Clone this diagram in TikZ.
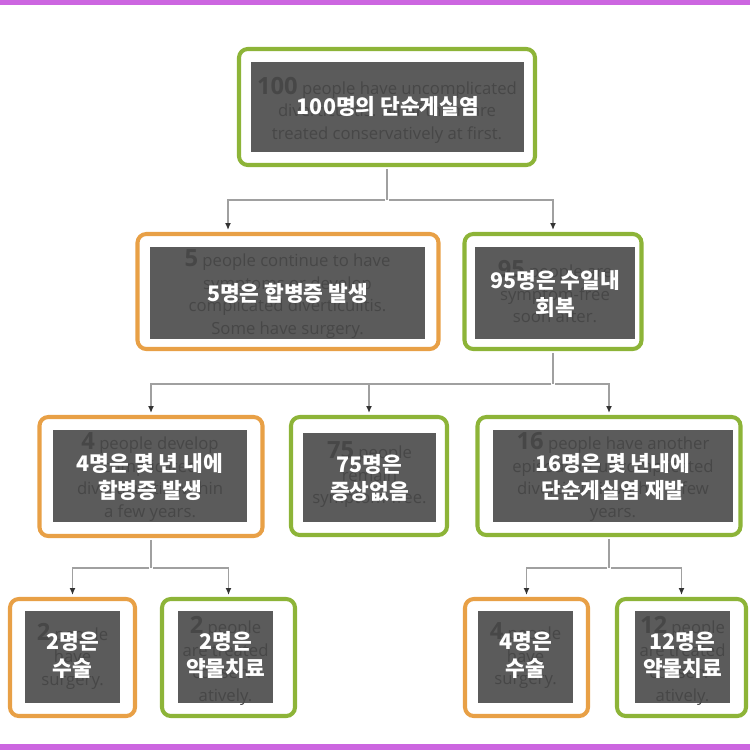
\documentclass[tikz,border=0pt]{standalone}
\usepackage{fontspec}
\setmainfont{Open Sans}
\newfontfamily\kor{Noto Sans CJK KR}
\definecolor{complicacion}{HTML}{E8A046}
\definecolor{recuperacion}{HTML}{8DB438}
\definecolor{velo}{HTML}{5B5B5B}
\definecolor{ingles}{HTML}{474747}
\definecolor{marco}{HTML}{CC66E0}
\definecolor{linea}{HTML}{A0A0A0}
\definecolor{punta}{HTML}{333333}
\newcommand\cifra[1]{{\fontsize{13.5}{12.8}\selectfont\bfseries #1}}
\usetikzlibrary{arrows.meta, positioning}

\begin{document}
\begin{tikzpicture}[x=0.2mm, y=-0.2mm,
  caja/.style={draw=#1, line width=2.3pt, rounded corners=5pt, fill=white,
               inner sep=0pt},
  tapa/.style={fill=velo, inner sep=0pt},
  eng/.style={text=ingles, align=center, inner sep=0pt,
              font=\fontsize{9.5}{12.8}\selectfont},
  kor/.style={text=white, align=center, inner sep=0pt,
              font=\kor\bfseries\fontsize{12.2}{15.2}\selectfont},
  enlace/.style={draw=linea, line width=0.8pt, shorten <=1.1pt},
  flecha/.style={enlace, shorten >=1.1pt,
                 -{Latex[length=1.4mm, width=1.2mm, color=punta]}},
]
\useasboundingbox (0,0) rectangle (750,750);
\fill[marco] (0,0) rectangle (750,5);
\fill[marco] (0,744) rectangle (750,750);

% nivel 1
\node[caja=recuperacion, minimum width=59.2mm, minimum height=23.2mm] (total) at (387,107) {};
\node[tapa, minimum width=54.6mm, minimum height=18mm] (totalV) at (387,107) {};
\node[eng] (totalE) at (387,110) {\cifra{100} people have uncomplicated\\
  diverticulitis. All of them are\\ treated conservatively at first.};
\node[kor] (totalK) at (388,106) {100명의 단순게실염};

% nivel 2
\node[caja=complicacion, minimum width=60.2mm, minimum height=23mm] (compl5) at (288,291.5) {};
\node[tapa, minimum width=55mm, minimum height=18.4mm] (compl5V) at (287.5,293) {};
\node[eng] (compl5E) at (287.5,294) {\cifra{5} people continue to have\\
  symptoms or develop\\ complicated diverticulitis.\\ Some have surgery.};
\node[kor] (compl5K) at (287.5,293) {5명은 합병증 발생};

\node[caja=recuperacion, minimum width=35.4mm, minimum height=23mm] (sano95) at (553,291.5) {};
\node[tapa, minimum width=32mm, minimum height=18.4mm] (sano95V) at (555,293) {};
\node[eng] (sano95E) at (555,292) {\cifra{95} people are\\ symptom-free\\ soon after.};
\node[kor] (sano95K) at (555,294) {95명은 수일내\\ 회복};

% nivel 3
\node[caja=complicacion, minimum width=44.6mm, minimum height=23.8mm] (compl4) at (151,476.5) {};
\node[tapa, minimum width=38.8mm, minimum height=18.4mm] (compl4V) at (150,476) {};
\node[eng] (compl4E) at (150,477) {\cifra{4} people develop\\ complicated\\
  diverticulitis within\\ a few years.};
\node[kor] (compl4K) at (150,477) {4명은 몇 년 내에\\ 합병증 발생};

\node[caja=recuperacion, minimum width=31.2mm, minimum height=23.6mm] (sano75) at (369,476) {};
\node[tapa, minimum width=26.6mm, minimum height=17.8mm] (sano75V) at (369.5,477.5) {};
\node[eng] (sano75E) at (369.5,475) {\cifra{75} people\\ remain\\ symptom-free.};
\node[kor] (sano75K) at (369.5,478) {75명은\\ 증상없음};

\node[caja=recuperacion, minimum width=52.6mm, minimum height=23.6mm] (recaida16) at (609,476) {};
\node[tapa, minimum width=48mm, minimum height=18.4mm] (recaida16V) at (613,476) {};
\node[eng] (recaida16E) at (613,477) {\cifra{16} people have another\\
  episode of uncomplicated\\ diverticulitis within a few\\ years.};
\node[kor] (recaida16K) at (613,477) {16명은 몇 년내에\\ 단순게실염 재발};

% nivel 4
\node[caja=complicacion, minimum width=25mm, minimum height=23.4mm] (cir2) at (72.5,657.5) {};
\node[tapa, minimum width=19mm, minimum height=18.4mm] (cir2V) at (72.5,657) {};
\node[eng] (cir2E) at (72.5,656) {\cifra{2} people\\ have\\ surgery.};
\node[kor] (cir2K) at (72.5,655) {2명은\\ 수술};

\node[caja=recuperacion, minimum width=26.6mm, minimum height=23.4mm] (med2) at (228.5,657.5) {};
\node[tapa, minimum width=19mm, minimum height=18.4mm] (med2V) at (225.5,657) {};
\node[eng] (med2E) at (225.5,661) {\cifra{2} people\\ are treated\\ conserv-\\ atively.};
\node[kor] (med2K) at (225.5,655) {2명은\\ 약물치료};

\node[caja=complicacion, minimum width=24.6mm, minimum height=23.4mm] (cir4) at (526.5,657.5) {};
\node[tapa, minimum width=19mm, minimum height=18.4mm] (cir4V) at (525.5,657) {};
\node[eng] (cir4E) at (525.5,656) {\cifra{4} people\\ have\\ surgery.};
\node[kor] (cir4K) at (525.5,655) {4명은\\ 수술};

\node[caja=recuperacion, minimum width=25.8mm, minimum height=23.4mm] (med12) at (681.5,657.5) {};
\node[tapa, minimum width=19mm, minimum height=18.4mm] (med12V) at (682.5,657) {};
\node[eng] (med12E) at (682.5,661) {\cifra{12} people\\ are treated\\ conserv-\\ atively.};
\node[kor] (med12K) at (682.5,655) {12명은\\ 약물치료};

% conexiones
\coordinate (r1) at (387,200);
\coordinate (r1a) at (228,200);
\coordinate (r2) at (553,384);
\coordinate (r3) at (151,568);
\coordinate (r4) at (609,568);
\draw[enlace] (total) -- (r1);
\draw[flecha] (r1) -- (r1a) -- (r1a |- compl5.north);
\draw[flecha] (r1) -| (sano95.north);
\draw[enlace] (sano95) -- (r2);
\draw[flecha] (r2) -| (compl4.north);
\draw[flecha] (r2) -| (sano75.north);
\draw[flecha] (r2) -| (recaida16.north);
\draw[enlace] (compl4) -- (r3);
\draw[flecha] (r3) -| (cir2.north);
\draw[flecha] (r3) -| (med2.north);
\draw[enlace] (recaida16) -- (r4);
\draw[flecha] (r4) -| (cir4.north);
\draw[flecha] (r4) -| (med12.north);
\end{tikzpicture}
\end{document}
